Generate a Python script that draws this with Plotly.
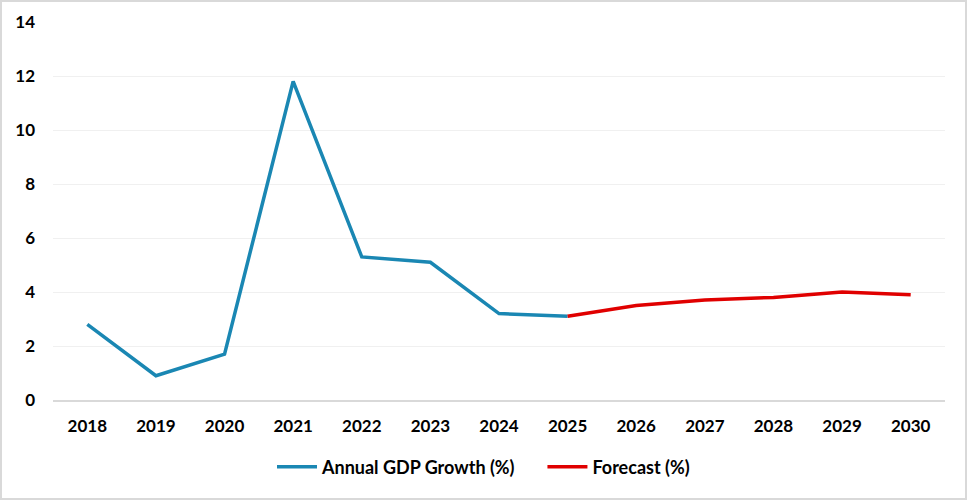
import plotly.graph_objects as go

years = ["2018", "2019", "2020", "2021", "2022", "2023", "2024", "2025", "2026", "2027", "2028", "2029", "2030"]
gdp_years = ["2018", "2019", "2020", "2021", "2022", "2023", "2024", "2025"]
gdp_growth = [2.8, 0.9, 1.7, 11.8, 5.3, 5.1, 3.2, 3.1]
fc_years = ["2025", "2026", "2027", "2028", "2029", "2030"]
forecast = [3.1, 3.5, 3.7, 3.8, 4.0, 3.9]
y_ticks = [0, 2, 4, 6, 8, 10, 12, 14]

W, H = 967, 500
ml, mr, mt, mb = 53, 22, 22, 100
pw, ph = W - ml - mr, H - mt - mb
FAM = "Lato, 'Open Sans', sans-serif"

fig = go.Figure()
fig.add_trace(go.Scatter(x=gdp_years, y=gdp_growth, mode="lines",
                         name="Annual GDP Growth (%)" + "\u00a0" * 5,
                         line=dict(color="#1a87b3", width=3.5)))
fig.add_trace(go.Scatter(x=fc_years, y=forecast, mode="lines", name="Forecast (%)",
                         line=dict(color="#e00000", width=3.5)))

def px2paper_x(p):
    return (p - ml) / pw

def px2paper_y(p):
    return (H - mb - p) / ph

fig.add_shape(type="rect", xref="paper", yref="paper",
              x0=px2paper_x(1), x1=px2paper_x(W - 1), y0=px2paper_y(H - 1), y1=px2paper_y(1),
              line=dict(color="#d9d9d9", width=2), fillcolor="rgba(0,0,0,0)", layer="below")

tickfont = dict(family=FAM, size=17, color="#000000", weight="bold")

fig.update_layout(
    width=W, height=H,
    margin=dict(l=ml, r=mr, t=mt, b=mb),
    paper_bgcolor="white", plot_bgcolor="white",
    font=dict(family=FAM, size=17, color="#000000"),
    showlegend=True,
    legend=dict(orientation="h", x=px2paper_x(272), xanchor="left", y=px2paper_y(467), yanchor="middle",
                font=dict(family=FAM, size=18, color="#000000", weight="bold"),
                itemwidth=40, tracegroupgap=0),
    xaxis=dict(type="category", categoryorder="array", categoryarray=years,
               range=[-0.5, len(years) - 0.5], showgrid=False, showline=True,
               linecolor="#d9d9d9", linewidth=2, ticks="", zeroline=False,
               ticklabelstandoff=10, tickfont=tickfont),
    yaxis=dict(range=[0, 14], tickvals=y_ticks, showgrid=True, gridcolor="#f0f0f0", gridwidth=1,
               zeroline=False, showline=False, ticks="", ticklen=0,
               ticklabelstandoff=17, tickfont=tickfont),
)

fig.write_html("out.html", config={"displayModeBar": False},
               post_script="document.body.style.margin='0';")
